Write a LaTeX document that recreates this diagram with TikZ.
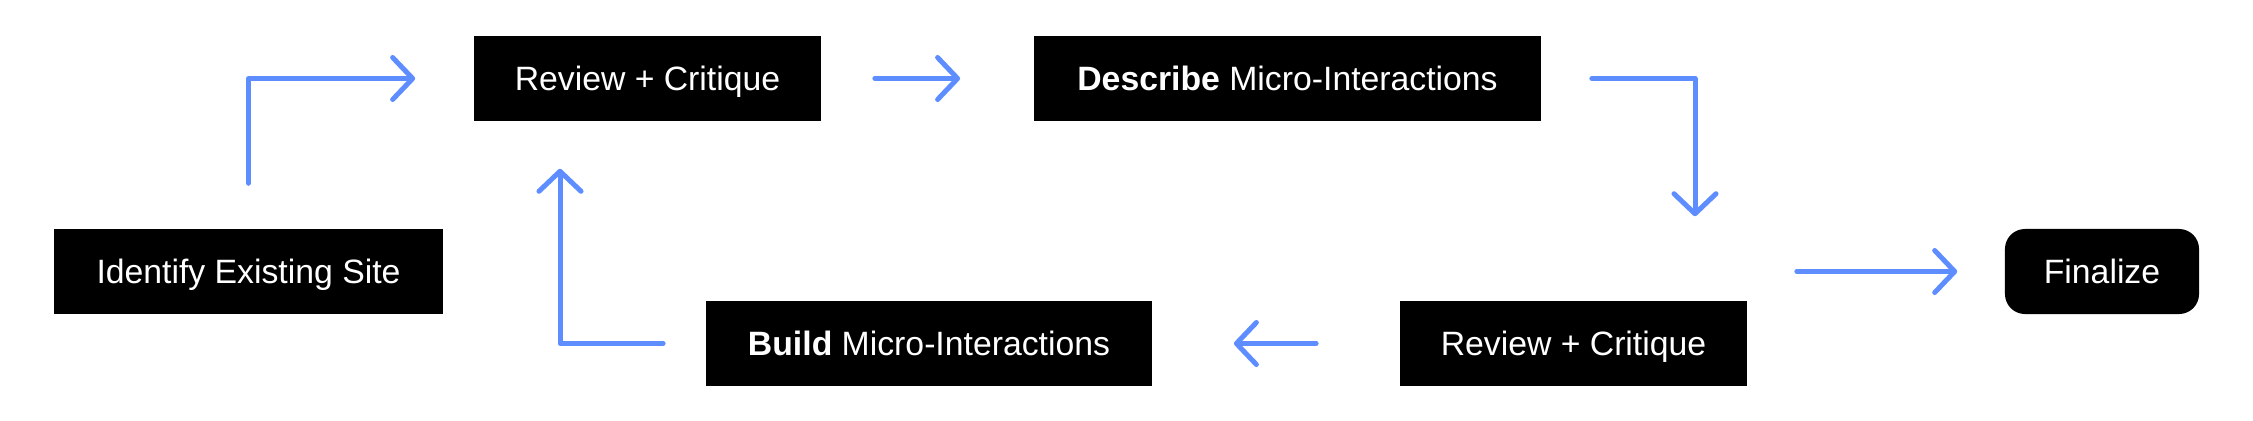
\documentclass[tikz,border=0pt]{standalone}
\usepackage{fontspec}
\setmainfont{Liberation Sans}
\usetikzlibrary{arrows.meta,calc}
\definecolor{flowblue}{RGB}{94,141,255}
\begin{document}
\begin{tikzpicture}[x=0.01cm,y=-0.01cm,
  stepbox/.style={fill=black,text=white,inner sep=0pt,font=\fontsize{9.6pt}{11pt}\selectfont,text height=6.9pt,text depth=0pt,minimum height=0.85cm},
  arr/.style={draw=flowblue,line width=0.05cm,line cap=round,line join=round,-{Straight Barb[length=2mm,width=4.2mm,round]}}
]
\useasboundingbox (0,0) rectangle (2253,421);
\node[stepbox,minimum width=3.89cm] (id) at (248.5,271.5) {Identify Existing Site};
\node[stepbox,minimum width=3.47cm] (rv1) at (647.5,78.5) {Review + Critique};
\node[stepbox,minimum width=5.07cm] (desc) at (1287.5,78.5) {\textbf{Describe} Micro-Interactions};
\node[stepbox,minimum width=4.46cm] (build) at (929,343.5) {\textbf{Build} Micro-Interactions};
\node[stepbox,minimum width=3.47cm] (rv2) at (1573.5,343.5) {Review + Critique};
\node[stepbox,minimum width=1.94cm,rounded corners=0.2cm] (fin) at (2102,271.5) {Finalize};
\coordinate (c1) at (1695,78.5);
\coordinate (c2) at (560,343.5);
\draw[arr,shorten <=0.45cm,shorten >=0.58cm] (id.north) |- (rv1.west);
\draw[arr,shorten <=0.53cm,shorten >=0.73cm] (rv1.east) -- (desc.west);
\draw[arr,shorten <=0.5cm,shorten >=0.84cm] (desc.east) -- (c1 |- desc.east) -- (c1 |- rv2.north);
\draw[arr,shorten <=0.83cm,shorten >=0.81cm] (rv2.west) -- (build.east);
\draw[arr,shorten <=0.42cm,shorten >=0.47cm] (build.west) -- (c2 |- build.west) -- (c2 |- rv1.south);
\draw[arr,shorten <=0.49cm,shorten >=0.47cm] (rv2.east |- fin.west) -- (fin.west);
\end{tikzpicture}
\end{document}
